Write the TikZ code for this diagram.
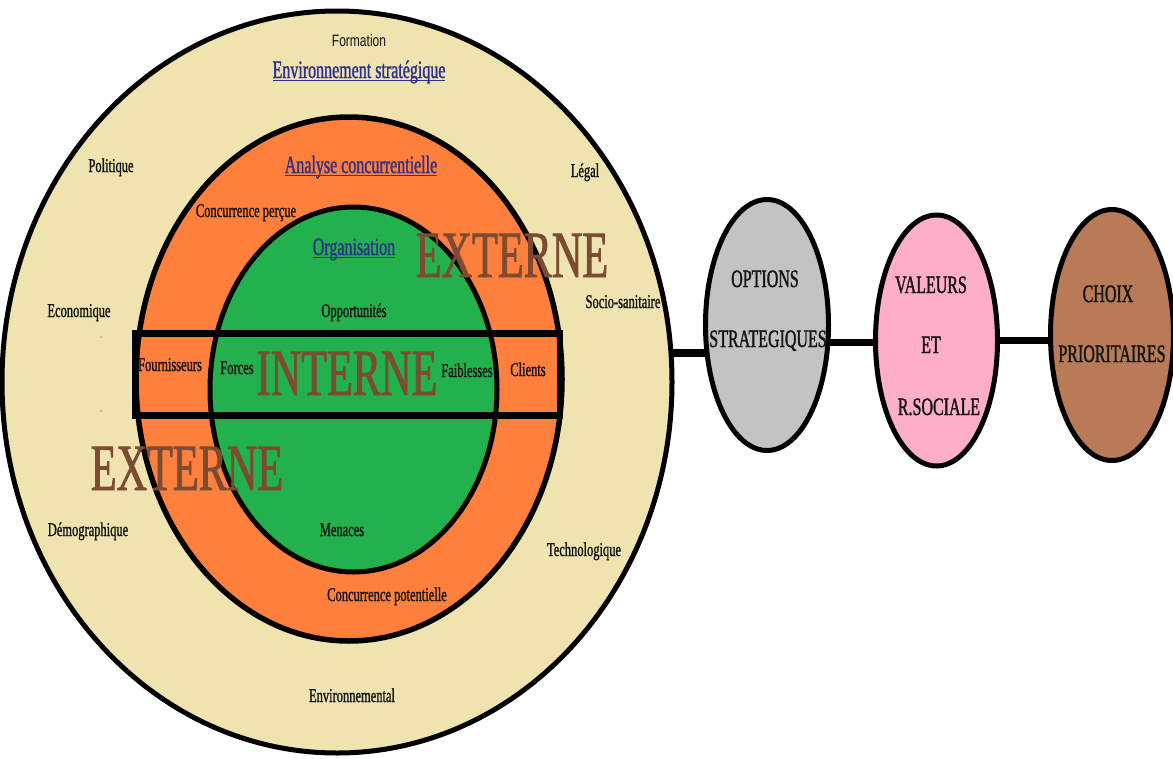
\documentclass[tikz,border=0pt]{standalone}
\usepackage{fontspec}
\setmainfont{Liberation Serif}[FakeStretch=0.64,FakeBold=1.2]
\newfontfamily\narrowsans{Liberation Sans}[FakeStretch=0.73]
\usetikzlibrary{shapes.geometric}
\definecolor{beige}{RGB}{239,228,176}
\definecolor{orng}{RGB}{255,127,60}
\definecolor{grn}{RGB}{34,177,76}
\definecolor{gry}{RGB}{195,195,195}
\definecolor{pnk}{RGB}{255,174,201}
\definecolor{brwn}{RGB}{185,122,87}
\definecolor{bigbrown}{RGB}{123,75,50}
\definecolor{navy}{RGB}{46,49,140}
\definecolor{ink}{RGB}{20,20,20}
\newcommand\baseul[1]{\setbox0\hbox{#1}\rlap{\rule[-3pt]{\wd0}{1.3pt}}\box0}
\begin{document}
\begin{tikzpicture}[x=1pt,y=-1pt,
  ring/.style={ellipse, draw=black, inner sep=0pt, outer sep=0pt},
  lbl/.style={anchor=base, inner sep=0pt, text=ink, font=\fontsize{19.5}{22}\selectfont},
  title/.style={anchor=base, inner sep=0pt, text=navy, font=\fontsize{25}{28}\selectfont},
  big/.style={anchor=base, inner sep=0pt, text=bigbrown, font=\fontsize{66}{70}\selectfont},
  caps/.style={anchor=base, inner sep=0pt, text=ink, font=\fontsize{25}{28}\selectfont},
  conn/.style={draw=black, line width=7.5pt}]
\useasboundingbox (0,0) rectangle (1173,758);

% concentric rings
\node[ring, fill=beige, line width=5pt, minimum width=670pt, minimum height=742pt] (outer) at (337,382) {};
\node[ring, fill=orng, line width=5.5pt, minimum width=426pt, minimum height=524pt] (orange) at (349,379) {};
\node[ring, fill=grn, line width=5pt, minimum width=287pt, minimum height=365pt] (green) at (353.5,389.5) {};
\node[draw=black, line width=6.5pt, inner sep=0pt, outer sep=0pt, minimum width=424.5pt, minimum height=82pt] (band) at (347.75,374.5) {};

\fill[gray!70] (101,337) circle (1pt);
\fill[gray!70] (101,411) circle (1pt);

% labels in outer ring
\node[anchor=base, inner sep=0pt, text=ink, font=\narrowsans\fontsize{16.5}{19}\selectfont] (formation) at (359,46) {Formation};
\node[title] (envstrat) at (359,78) {\baseul{Environnement stratégique}};
\node[lbl] (politique) at (111,172) {Politique};
\node[lbl] (legal) at (585,177) {Légal};
\node[lbl] (economique) at (79,317) {Economique};
\node[lbl] (socio) at (623,308) {Socio-sanitaire};
\node[lbl] (demo) at (88,536) {Démographique};
\node[lbl] (techno) at (584,556) {Technologique};
\node[lbl] (environ) at (352,702) {Environnemental};

% labels in orange ring
\node[title] (analyse) at (361,173) {\baseul{Analyse concurrentielle}};
\node[lbl] (cperc) at (246,217) {Concurrence perçue};
\node[lbl] (cpot) at (387,601) {Concurrence potentielle};
\node[lbl] (fourn) at (170,371) {Fournisseurs};
\node[lbl] (clients) at (528,376) {Clients};

% labels in green
\node[title] (orga) at (354,255) {\baseul{Organisation}};
\node[lbl] (opport) at (354,317) {Opportunités};
\node[lbl] (forces) at (237,374) {Forces};
\node[lbl] (faibl) at (467,377) {Faiblesses};
\node[lbl] (menaces) at (342,536) {Menaces};

% big words
\node[big] (ext1) at (512,277) {EXTERNE};
\node[big] (interne) at (347,395) {INTERNE};
\node[big] (ext2) at (187,490) {EXTERNE};

% right chain
\node[ring, fill=gry, line width=5pt, minimum width=123pt, minimum height=251pt] (gray) at (767,325) {};
\node[ring, fill=pnk, line width=5pt, minimum width=122pt, minimum height=251pt] (pink) at (936.5,340.5) {};
\node[ring, fill=brwn, line width=5pt, minimum width=123pt, minimum height=251pt] (brown) at (1112,335) {};

\draw[conn] (gray.205) -- (gray.205 -| outer.east);
\draw[conn] (gray.-16.5) -- (gray.-16.5 -| pink.west);
\draw[conn] (pink.east) -- (pink.east -| brown.west);

\node[caps] (options) at (765,287) {OPTIONS};
\node[caps] (strat) at (768,347) {STRATEGIQUES};
\node[caps] (valeurs) at (931,293) {VALEURS};
\node[caps] (et) at (931,353) {ET};
\node[caps] (rsoc) at (939,415) {R.SOCIALE};
\node[caps] (choix) at (1108,302) {CHOIX};
\node[caps] (prio) at (1112,362) {PRIORITAIRES};
\end{tikzpicture}
\end{document}
